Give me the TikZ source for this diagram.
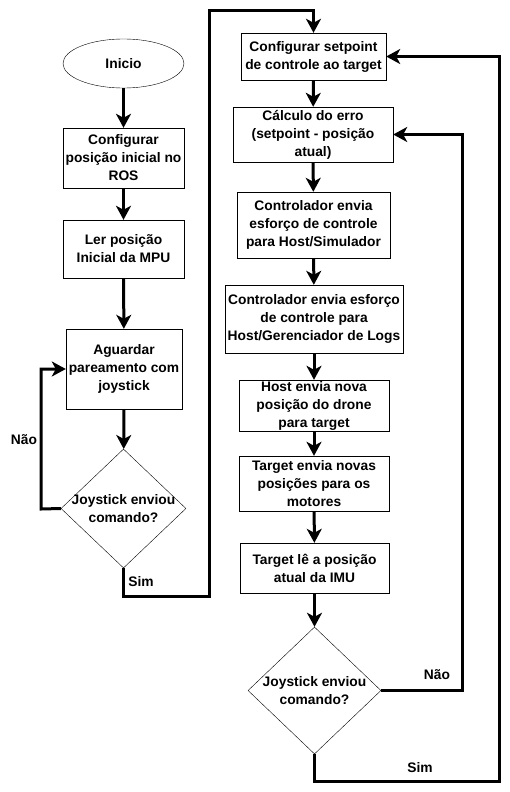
\documentclass[tikz,border=0pt]{standalone}
\usepackage{fontspec}
\setmainfont{Liberation Sans}
\usetikzlibrary{arrows.meta,shapes.geometric}

\begin{document}
\begin{tikzpicture}[x=1pt,y=-1pt,
    txt/.style={font=\fontsize{13.8}{18}\selectfont\bfseries,align=center},
    caixa/.style={draw,thin,txt,inner sep=0pt},
    inicio/.style={draw,thin,ellipse,txt,inner sep=0pt},
    decisao/.style={draw,thin,diamond,inner sep=0pt},
    fluxo/.style={line width=3pt,-{Stealth[length=14pt,width=15pt,inset=4pt]}},
    rot/.style={txt}]
        \useasboundingbox (0,0) rectangle (510,792);
        %coluna esquerda
        \node[inicio,minimum width=121,minimum height=49] (ini) at (123.5,63.5) {Inicio};
        \node[caixa,minimum width=121,minimum height=60] (pos) at (123.5,158) {Configurar\\posição inicial no\\ROS};
        \node[caixa,minimum width=121,minimum height=58] (ler) at (123.5,249) {Ler posição\\Inicial da MPU};
        \node[caixa,minimum width=116,minimum height=80] (agu) at (124,369) {Aguardar\\pareamento com\\joystick};
        \node[decisao,minimum width=125,minimum height=119,label={[txt]center:Joystick enviou\\comando?}] (dec1) at (123.5,508.5) {};
        %coluna direita
        \node[caixa,minimum width=145,minimum height=47] (setp) at (313.5,56.5) {Configurar setpoint\\de controle ao target};
        \node[caixa,minimum width=160,minimum height=55] (erro) at (313,134.5) {Cálculo do erro\\(setpoint - posição\\atual)};
        \node[caixa,minimum width=153,minimum height=66] (sim) at (313.5,225) {Controlador envia\\esforço de controle\\para Host/Simulador};
        \node[caixa,minimum width=178,minimum height=68] (logs) at (314,319) {Controlador envia esforço\\de controle para\\Host/Gerenciador de Logs};
        \node[caixa,minimum width=150,minimum height=51] (host) at (314,405.5) {Host envia nova\\posição do drone\\para target};
        \node[caixa,minimum width=150,minimum height=55] (mot) at (314,483.5) {Target envia novas\\posições para os\\motores};
        \node[caixa,minimum width=149,minimum height=50] (imu) at (314.5,568) {Target lê a posição\\atual da IMU};
        \node[decisao,minimum width=133,minimum height=127,label={[txt]center:Joystick enviou\\comando?}] (dec2) at (314.5,690.5) {};
        %pontos de dobra
        \coordinate (c1) at (41,509);
        \coordinate (c2) at (209,596);
        \coordinate (c3) at (209,11);
        \coordinate (c4) at (462,690.5);
        \coordinate (c5) at (499,781);
        %ligacoes
        \draw[fluxo] (ini) -- (pos);
        \draw[fluxo] (pos) -- (ler);
        \draw[fluxo] (ler) -- (agu);
        \draw[fluxo] (agu) -- (dec1);
        \draw[fluxo] (dec1.west) -- (c1) |- (agu.west);
        \draw[fluxo] (dec1.south) |- (c2) -- (c3) -| (setp.north);
        \draw[fluxo] (setp) -- (erro);
        \draw[fluxo] (erro) -- (sim);
        \draw[fluxo] (sim) -- (logs);
        \draw[fluxo] (logs) -- (host);
        \draw[fluxo] (host) -- (mot);
        \draw[fluxo] (mot) -- (imu);
        \draw[fluxo] (imu) -- (dec2);
        \draw[fluxo] (dec2.east) -- (c4) |- (erro.east);
        \draw[fluxo] (dec2.south) |- (c5) |- (setp.east);
        %rotulos
        \node[rot] (nao1) at (24,440) {Não};
        \node[rot] (sim1) at (141,582) {Sim};
        \node[rot] (nao2) at (437,675) {Não};
        \node[rot] (sim2) at (420,768) {Sim};
\end{tikzpicture}
\end{document}
